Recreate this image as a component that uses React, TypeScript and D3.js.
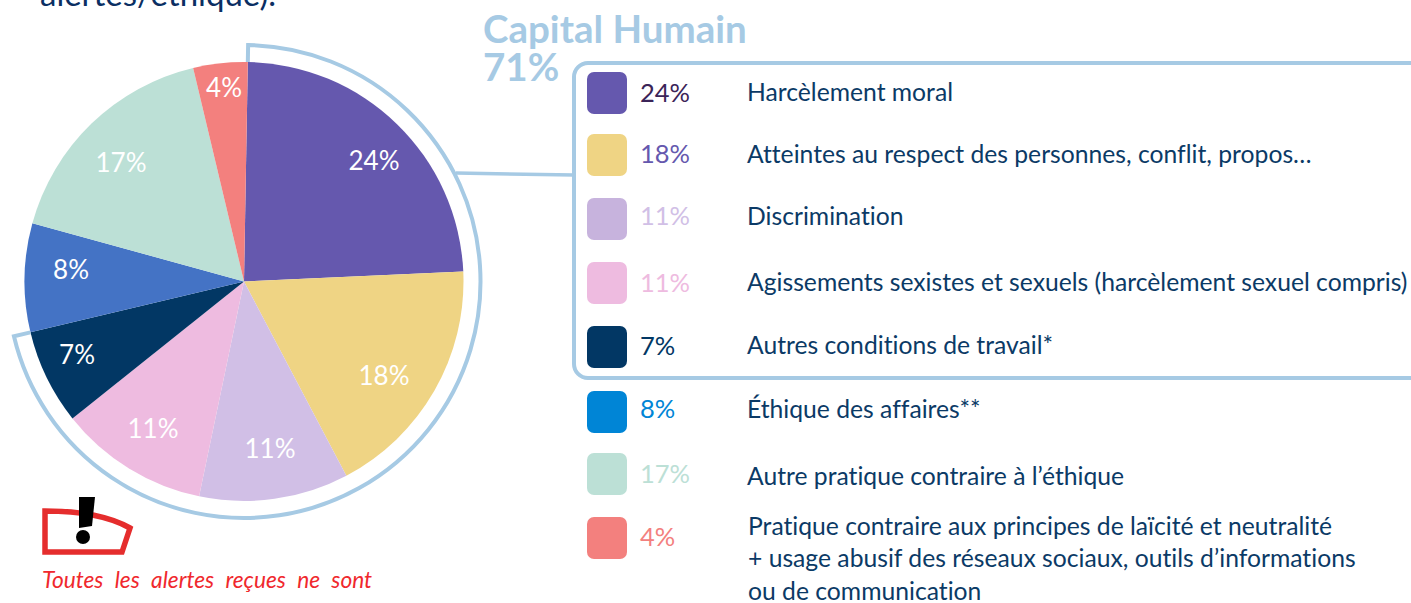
import React from "react";
import * as d3 from "d3";

const categories = [
  "Harcèlement moral",
  "Atteintes au respect des personnes, conflit, propos…",
  "Discrimination",
  "Agissements sexistes et sexuels (harcèlement sexuel compris)",
  "Autres conditions de travail*",
  "Éthique des affaires**",
  "Autre pratique contraire à l’éthique",
];
const lastCategoryLines = [
  "Pratique contraire aux principes de laïcité et neutralité",
  "+ usage abusif des réseaux sociaux, outils d’informations",
  "ou de communication",
];
const values = [24, 18, 11, 11, 7, 8, 17, 4];
const pieColors = ["#6558ae", "#efd484", "#d1bfe6", "#eebbe0", "#023764", "#4473c5", "#bce0d6", "#f3807e"];
const swatchColors = ["#6558ae", "#efd484", "#c7b3dd", "#eebbe0", "#023764", "#0085d6", "#bce0d6", "#f3807e"];
const valueColors = ["#3b2458", "#6558ae", "#d1bfe6", "#eebbe0", "#023764", "#0085d6", "#bce0d6", "#f3807e"];
const swatchTops = [72, 134, 198, 262, 326, 391, 453, 517];
const valueBaselines = [102, 163, 225, 292, 355, 418, 483, 546];
const labelBaselines = [101, 163, 225, 291, 354, 418, 485];
const lastLineBaselines = [535, 567, 600];
const labelPos = [
  [374, 170], [384, 385], [270, 458], [153, 438], [77, 364], [71, 279], [121, 172], [224, 97],
];

const FONT = "Lato, 'Open Sans', sans-serif";
const BLUE = "#a6cae4";
const NAVY = "#0b3a66";
const cx = 244, cy = 281.5, R = 219.5;
const start = (1 * Math.PI) / 180;

export default function App() {
  const pie = d3.pie<number>().sort(null).startAngle(start).endAngle(start + 2 * Math.PI);
  const arcs = pie(values);
  const arc = d3.arc<d3.PieArcDatum<number>>().innerRadius(0).outerRadius(R);
  const groupEnd = arcs[4].endAngle;
  const rb = 236.5;
  const pt = (a: number, r: number) => [cx + r * Math.sin(a), cy - r * Math.cos(a)];
  const [bx0, by0] = pt(start, R);
  const [bx1, by1] = pt(start, rb);
  const [bx2, by2] = pt(groupEnd, rb);
  const [bx3, by3] = pt(groupEnd, R);
  const bracket = `M${bx0},${by0}L${bx1},${by1}A${rb},${rb} 0 1 1 ${bx2},${by2}L${bx3},${by3}`;

  return (
    <svg width={1411} height={603} style={{ position: "absolute", left: 0, top: 0, fontFamily: FONT, fontVariantLigatures: "none" }}>
      <text x={40} y={6} fontSize={33} fill="#0b2f63">alertes/éthique).</text>

      <g transform={`translate(${cx},${cy})`}>
        {arcs.map((d, i) => (
          <path key={i} d={arc(d) || ""} fill={pieColors[i]} />
        ))}
      </g>
      {arcs.map((d, i) => (
        <text key={i} x={labelPos[i][0]} y={labelPos[i][1]} fontSize={26} textAnchor="middle" fill="#fff">
          {d.value}%
        </text>
      ))}
      <path d={bracket} fill="none" stroke={BLUE} strokeWidth={4} />
      <line x1={456} y1={173} x2={574} y2={175} stroke={BLUE} strokeWidth={3.5} />

      <text x={483} y={43} fontSize={38.5} fontWeight={700} fill={BLUE}>Capital Humain</text>
      <text x={483} y={81} fontSize={38.5} fontWeight={700} fill={BLUE}>71%</text>

      <rect x={574} y={63} width={860} height={315} rx={14} fill="none" stroke={BLUE} strokeWidth={4} />

      {values.map((v, i) => (
        <g key={i}>
          <rect x={587} y={swatchTops[i]} width={40} height={42} rx={7} fill={swatchColors[i]} />
          <text x={640} y={valueBaselines[i]} fontSize={25.5} fill={valueColors[i]}>{v}%</text>
        </g>
      ))}
      {categories.map((c, i) => (
        <text key={i} x={747} y={labelBaselines[i]} fontSize={24.7} fill={NAVY}>{c}</text>
      ))}
      {lastCategoryLines.map((c, i) => (
        <text key={i} x={748} y={lastLineBaselines[i]} fontSize={24.7} fill={NAVY}>{c}</text>
      ))}

      <path d="M45,511 Q100,511 130,528 L122,552 L45,552 Z" fill="none" stroke="#e52d2d" strokeWidth={5.5} />
      <path d="M79,497 L95,497 L92,526 L79,528 Z" fill="#000" />
      <circle cx={83} cy={537} r={7} fill="#000" />
      <text x={42} y={588} fontSize={22.7} fontStyle="italic" fill="#f0282d" wordSpacing={6}>Toutes les alertes reçues ne sont</text>
    </svg>
  );
}
